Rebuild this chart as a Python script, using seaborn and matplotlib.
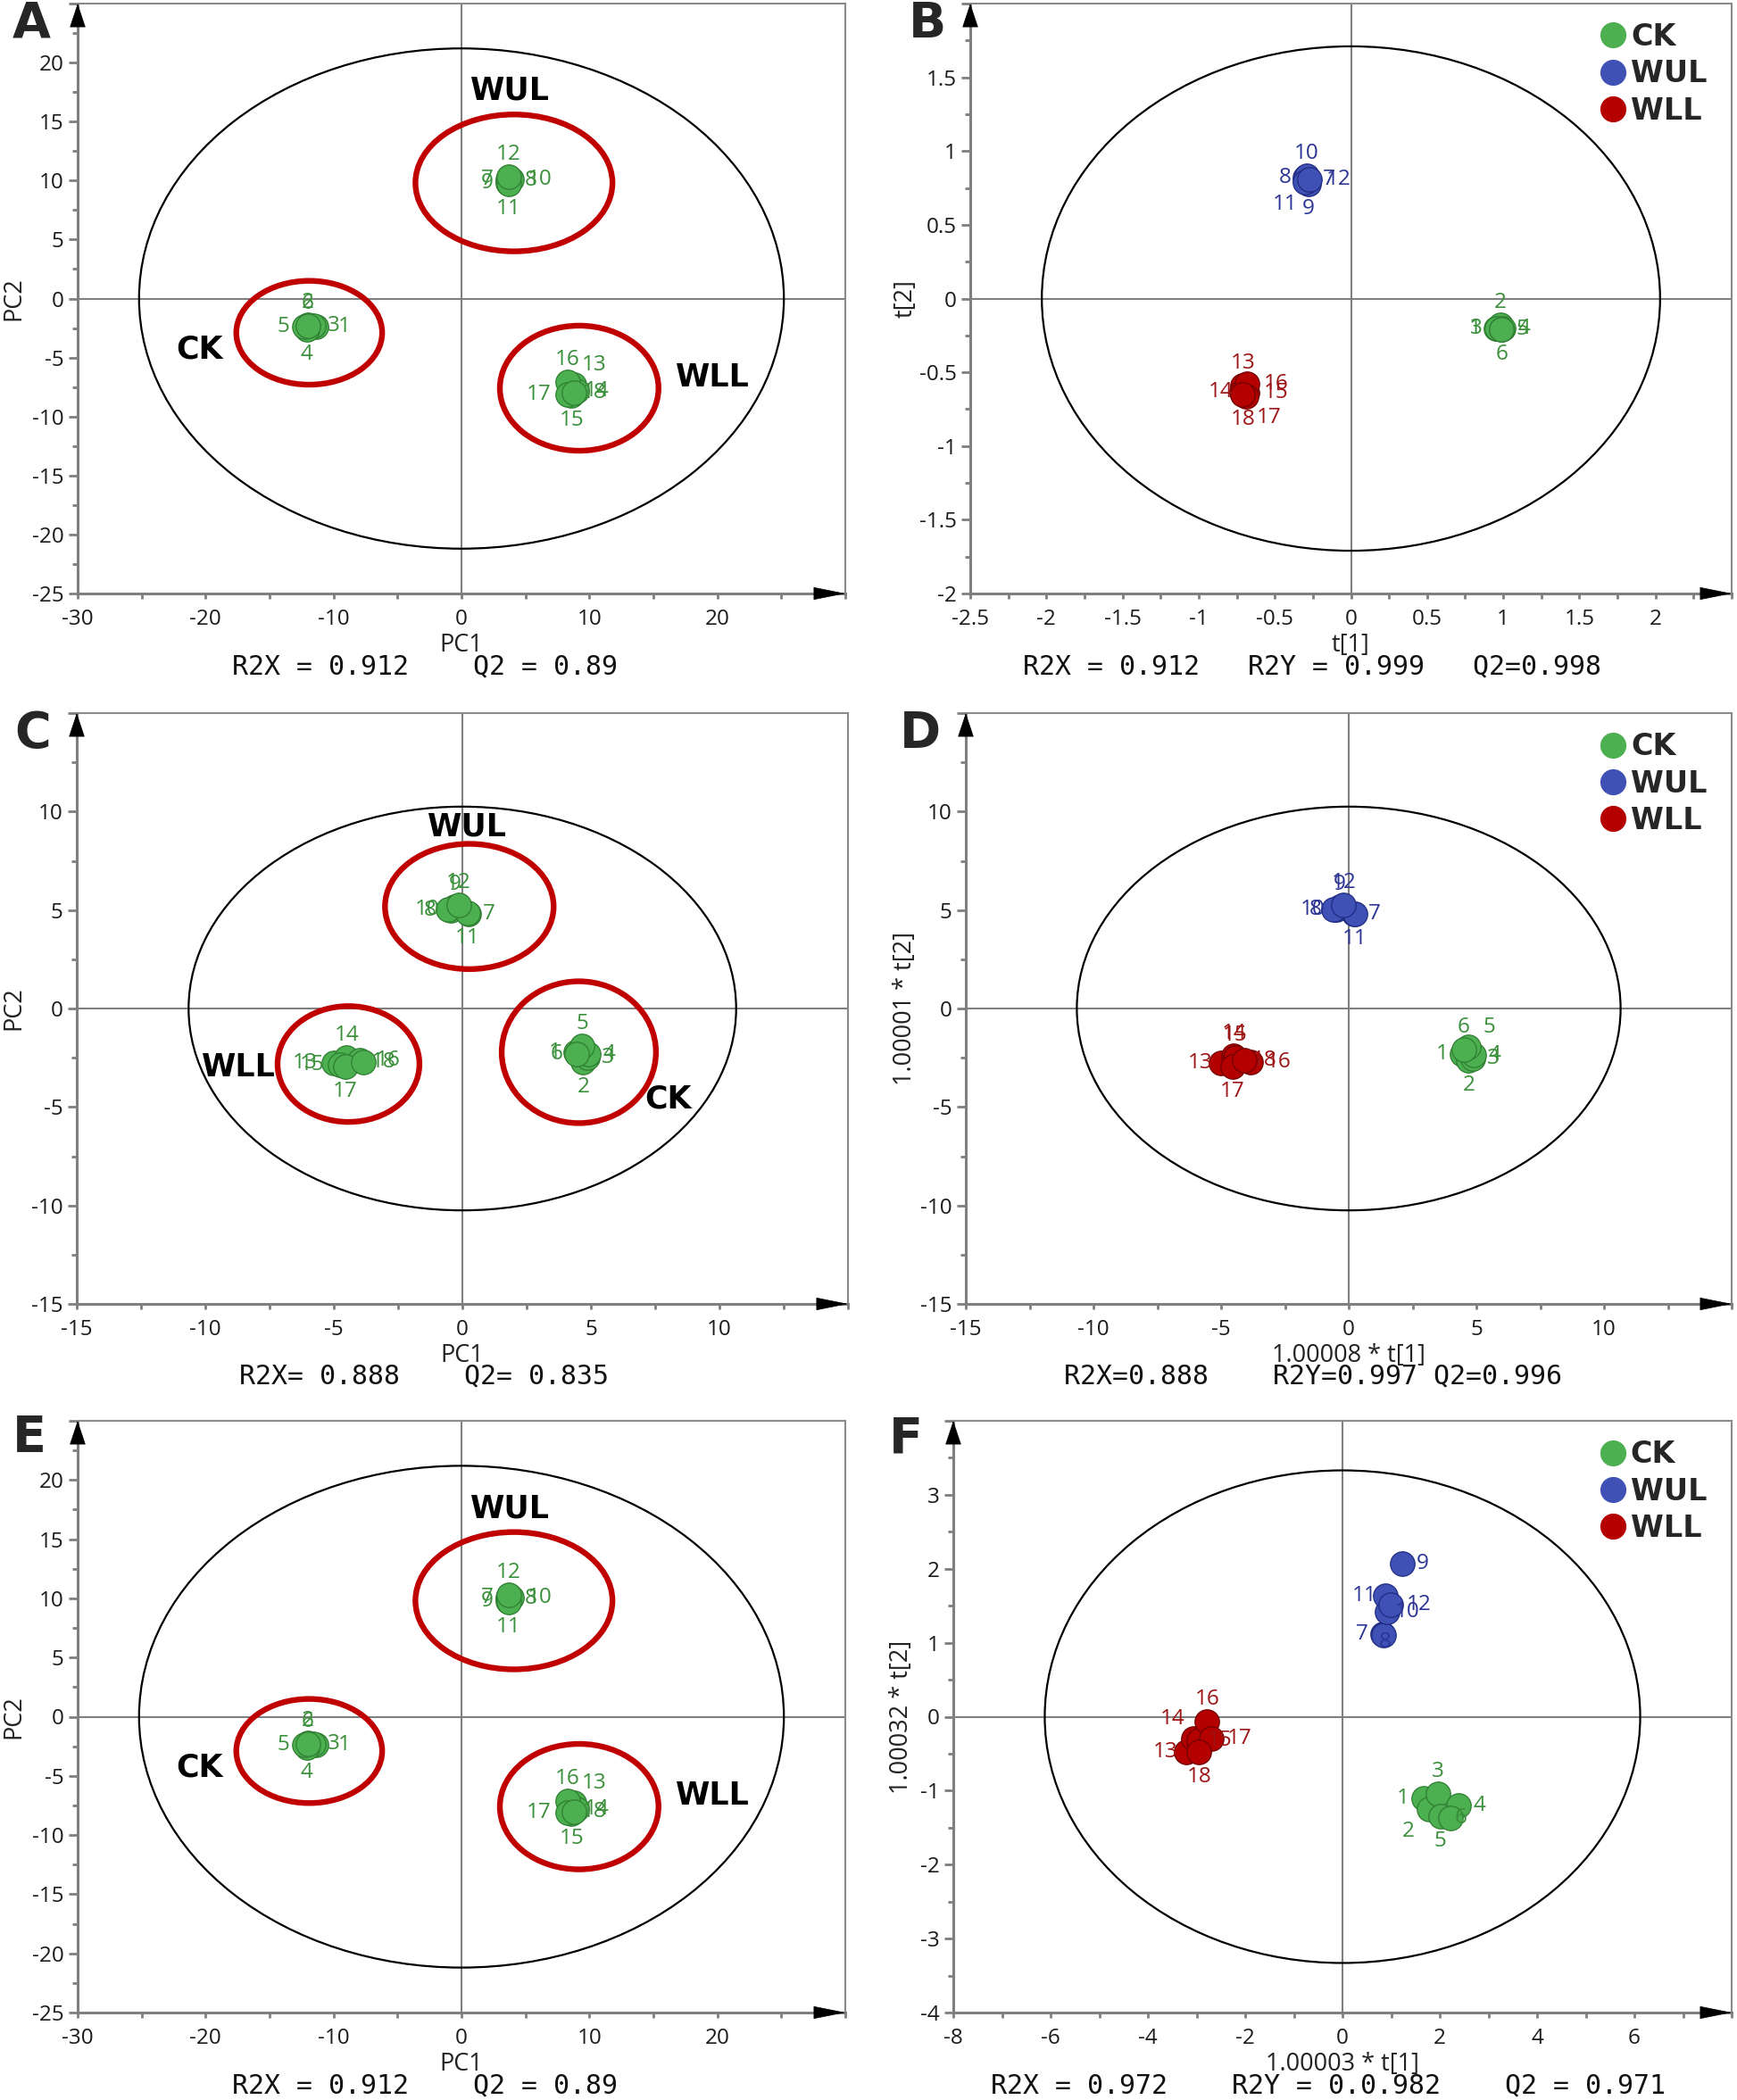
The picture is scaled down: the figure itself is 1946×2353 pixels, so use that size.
import matplotlib
matplotlib.use("Agg")
import matplotlib.pyplot as plt
from matplotlib.patches import Ellipse
from matplotlib.lines import Line2D
from matplotlib.ticker import MultipleLocator
import pandas as pd
import seaborn as sns

# --- datos ---
muestras = list(range(1, 19))
grupos = ["CK"] * 6 + ["WUL"] * 6 + ["WLL"] * 6

# A y E: PCA (PC1, PC2)
pca_ae_x = [-11.4, -12.0, -11.6, -12.1, -12.3, -12.0,
            3.6, 3.8, 3.6, 3.9, 3.7, 3.7,
            8.8, 9.0, 8.6, 8.3, 8.3, 8.8]
pca_ae_y = [-2.4, -2.2, -2.3, -2.6, -2.4, -2.3,
            10.1, 10.0, 9.8, 10.1, 9.7, 10.3,
            -7.3, -7.8, -8.2, -7.1, -8.1, -8.0]
pos_ae = ["E2", "N", "E", "S", "W", "N", "W", "E", "W", "E2", "S", "N",
          "NE", "E", "S", "N", "W2", "E"]

# B: PLS-DA t[1], t[2]
pls_b_x = [0.95, 0.98, 0.96, 1.00, 0.99, 0.99,
           -0.28, -0.30, -0.28, -0.29, -0.30, -0.27,
           -0.71, -0.72, -0.68, -0.68, -0.69, -0.71]
pls_b_y = [-0.20, -0.18, -0.20, -0.20, -0.21, -0.21,
           0.81, 0.82, 0.78, 0.83, 0.79, 0.81,
           -0.59, -0.63, -0.64, -0.58, -0.66, -0.65]
pos_b = ["W", "N", "W", "E", "E", "S", "E", "W", "S", "N", "SW", "E2",
         "N", "W", "E2", "E2", "SE", "S"]

# C: PCA
pca_c_x = [4.40, 4.70, 4.85, 4.90, 4.65, 4.45,
           0.25, -0.45, -0.30, -0.55, 0.20, -0.15,
           -5.00, -4.50, -4.75, -4.00, -4.55, -3.85]
pca_c_y = [-2.20, -2.70, -2.50, -2.30, -1.90, -2.30,
           4.80, 5.00, 5.15, 5.05, 4.85, 5.25,
           -2.75, -2.50, -2.85, -2.65, -2.95, -2.70]
pos_c = ["W", "S", "E", "E", "N", "W", "E", "W", "N", "W", "S", "N",
         "W2", "N", "W2", "E2", "S", "E"]

# D: PLS-DA
pls_d_x = [4.45, 4.70, 4.85, 4.90, 4.70, 4.50,
           0.20, -0.50, -0.35, -0.60, 0.25, -0.20,
           -5.00, -4.50, -4.45, -3.85, -4.55, -4.10]
pls_d_y = [-2.30, -2.65, -2.55, -2.35, -1.95, -2.10,
           4.80, 5.05, 5.15, 5.05, 4.80, 5.25,
           -2.75, -2.40, -2.50, -2.70, -2.95, -2.65]
pos_d = ["W", "S", "E", "E", "NE", "N", "E", "W", "N", "W", "S", "N",
         "W", "N", "N", "E2", "S", "E"]

# F: PLS-DA
pls_f_x = [1.67, 1.78, 1.97, 2.39, 2.01, 2.22,
           0.82, 0.84, 1.23, 0.92, 0.88, 0.99,
           -3.22, -3.07, -2.95, -2.78, -2.70, -2.95]
pls_f_y = [-1.10, -1.25, -1.04, -1.20, -1.34, -1.37,
           1.12, 1.11, 2.07, 1.42, 1.63, 1.52,
           -0.48, -0.29, -0.32, -0.07, -0.29, -0.48]
pos_f = ["W", "SW", "N", "E", "S", "E1", "W", "C", "E", "E", "W", "E2",
         "W", "NW", "E", "N", "E2", "S"]

# elipses rojas (centro x, centro y, ancho, alto) y etiquetas de grupo
elipses_ae = {"CK": (-11.9, -2.9, 11.4, 8.8), "WUL": (4.1, 9.8, 15.4, 11.6),
              "WLL": (9.2, -7.6, 12.4, 10.6)}
rotulos_ae = {"WUL": (3.8, 17.6), "CK": (-20.5, -4.3), "WLL": (19.6, -6.7)}
elipses_c = {"WUL": (0.27, 5.18, 6.56, 6.36), "CK": (4.53, -2.22, 6.0, 7.2),
             "WLL": (-4.43, -2.82, 5.52, 5.88)}
rotulos_c = {"WUL": (0.2, 9.2), "WLL": (-8.7, -3.0), "CK": (8.0, -4.6)}

# elipse T2 de Hotelling (ancho, alto)
t2_ae = (50.4, 42.4)
t2_b = (4.06, 3.42)
t2_cd = (21.3, 20.5)
t2_f = (12.24, 6.66)

# --- estilo ---
sns.set_theme(style="white")
plt.rcParams["font.family"] = ["Open Sans", "DejaVu Sans"]

GRIS = "#7f7f7f"
colores = {"CK": "#4caf50", "WUL": "#3f51b5", "WLL": "#b50000"}
bordes = {"CK": "#2f7d32", "WUL": "#1f2a80", "WLL": "#6e0000"}
textos = {"CK": "#3a8f3a", "WUL": "#2c3593", "WLL": "#9c1414"}

# desplazamientos de las etiquetas (px)
desp = {"N": (0, 25), "S": (0, -28), "E": (23, 0), "W": (-23, 0),
        "E2": (32, 0), "W2": (-32, 0), "NE": (23, 22), "NW": (-23, 22),
        "SE": (26, -24), "SW": (-23, -25), "E1": (12, 0), "C": (2, -8)}

W, H = 1946, 2353
fig = plt.figure(figsize=(W / 100, H / 100), dpi=100)


def crear_ejes(izq, der, arriba, abajo):
    return fig.add_axes([izq / W, 1 - abajo / H, (der - izq) / W, (abajo - arriba) / H])


def formato(maximo):
    # el valor del extremo (donde esta la flecha) queda sin etiqueta
    return plt.FuncFormatter(lambda v, p: "" if v >= maximo - 1e-9 else f"{v:g}")


def panel(ax, x, y, pos, pca, xlim, ylim, xmaj, ymaj, xlab, ylab, ylab_off, t2,
          elipses=None, rotulos=None):
    df = pd.DataFrame({"x": x, "y": y, "muestra": muestras, "grupo": grupos})
    ax.set_xlim(*xlim)
    ax.set_ylim(*ylim)
    ax.axhline(0, color=GRIS, lw=1.5, zorder=1)
    ax.axvline(0, color=GRIS, lw=1.5, zorder=1)
    ax.add_patch(Ellipse((0, 0), t2[0], t2[1], fill=False, ec="black", lw=1.6, zorder=2))
    if elipses:
        for g, (cx, cy, w, h) in elipses.items():
            ax.add_patch(Ellipse((cx, cy), w, h, fill=False, ec="#c00000", lw=4.6, zorder=2))
    for g in ["CK", "WUL", "WLL"]:
        sub = df[df.grupo == g]
        clave = "CK" if pca else g
        sns.scatterplot(data=sub, x="x", y="y", color=colores[clave], edgecolor=bordes[clave],
                        linewidth=0.9, s=390, ax=ax, legend=False, zorder=3)
    for i, fila in df.iterrows():
        clave = "CK" if pca else fila.grupo
        dx, dy = desp[pos[i]]
        ax.annotate(str(fila.muestra), (fila.x, fila.y), xytext=(dx * 0.72, dy * 0.72),
                    textcoords="offset points", ha="center", va="center",
                    fontsize=17.5, color=textos[clave], zorder=4)
    if rotulos:
        for g, (tx, ty) in rotulos.items():
            ax.text(tx, ty, g, ha="center", va="center", fontsize=25, fontweight="bold",
                    family="DejaVu Sans", color="black", zorder=4)
    if not pca:
        manejadores = [Line2D([], [], marker="o", ls="", markersize=20,
                              markerfacecolor=colores[g], markeredgecolor=colores[g], label=g)
                       for g in ["CK", "WUL", "WLL"]]
        ax.legend(handles=manejadores, loc="upper right", bbox_to_anchor=(0.968, 0.968),
                  frameon=False, borderpad=0, borderaxespad=0, handletextpad=0.1,
                  labelspacing=0.25, handlelength=1.0,
                  prop={"family": "DejaVu Sans", "weight": "bold", "size": 24})

    ax.set_xlabel(xlab, fontsize=19.5, color="#222222")
    ax.set_ylabel(ylab, fontsize=19.5, color="#222222")
    ax.xaxis.set_label_coords(0.5, -0.087)
    ax.xaxis.label.set_va("center")
    ax.yaxis.set_label_coords(ylab_off, 0.5)
    ax.yaxis.label.set_va("center")

    ax.xaxis.set_major_locator(MultipleLocator(xmaj))
    ax.xaxis.set_minor_locator(MultipleLocator(xmaj / 2))
    ax.yaxis.set_major_locator(MultipleLocator(ymaj))
    ax.yaxis.set_minor_locator(MultipleLocator(ymaj / 2))
    ax.tick_params(axis="both", which="both", direction="out", color=GRIS, width=2,
                   labelsize=17.5, labelcolor="#1a1a1a")
    ax.tick_params(axis="y", which="major", length=7, pad=4, left=True)
    ax.tick_params(axis="y", which="minor", length=4.5, left=True)
    ax.tick_params(axis="x", which="both", length=4.5, pad=8, bottom=True)
    ax.xaxis.set_major_formatter(formato(xlim[1]))
    ax.yaxis.set_major_formatter(formato(ylim[1]))
    for lado in ["left", "bottom"]:
        ax.spines[lado].set_color(GRIS)
        ax.spines[lado].set_linewidth(2.2)
    for lado in ["top", "right"]:
        ax.spines[lado].set_color("#8a8a8a")
        ax.spines[lado].set_linewidth(1.5)
    ax.grid(False)

    # flechas de los ejes
    alto = ax.get_position().height * H
    ancho = ax.get_position().width * W
    ax.annotate("", xy=(0, 1), xytext=(0, 1 - 24 / alto), xycoords="axes fraction",
                arrowprops=dict(arrowstyle="-|>,head_length=0.9,head_width=0.3",
                                mutation_scale=20, color="black", lw=0.5,
                                shrinkA=0, shrinkB=0), annotation_clip=False)
    ax.annotate("", xy=(1, 0), xytext=(1 - 34 / ancho, 0), xycoords="axes fraction",
                arrowprops=dict(arrowstyle="-|>,head_length=1.2,head_width=0.24",
                                mutation_scale=20, color="black", lw=0.5,
                                shrinkA=0, shrinkB=0), annotation_clip=False)


axA = crear_ejes(87, 947, 4, 665)
panel(axA, pca_ae_x, pca_ae_y, pos_ae, True, (-30, 30), (-25, 25), 10, 5,
      "PC1", "PC2", -72 / 860, t2_ae, elipses_ae, rotulos_ae)
axB = crear_ejes(1087, 1940, 4, 665)
panel(axB, pls_b_x, pls_b_y, pos_b, False, (-2.5, 2.5), (-2, 2), 0.5, 0.5,
      "t[1]", "t[2]", -72 / 853, t2_b)
axC = crear_ejes(86, 950, 799, 1461)
panel(axC, pca_c_x, pca_c_y, pos_c, True, (-15, 15), (-15, 15), 5, 5,
      "PC1", "PC2", -71 / 864, t2_cd, elipses_c, rotulos_c)
axD = crear_ejes(1082, 1940, 799, 1461)
panel(axD, pls_d_x, pls_d_y, pos_d, False, (-15, 15), (-15, 15), 5, 5,
      "1.00008 * t[1]", "1.00001 * t[2]", -68 / 858, t2_cd)
axE = crear_ejes(87, 947, 1592, 2255)
panel(axE, pca_ae_x, pca_ae_y, pos_ae, True, (-30, 30), (-25, 25), 10, 5,
      "PC1", "PC2", -72 / 860, t2_ae, elipses_ae, rotulos_ae)
axF = crear_ejes(1068, 1940, 1592, 2255)
panel(axF, pls_f_x, pls_f_y, pos_f, False, (-8, 8), (-4, 4), 2, 1,
      "1.00003 * t[1]", "1.00032 * t[2]", -58 / 872, t2_f)

# letras de panel
for letra, (px, py) in {"A": (14, 0), "B": (1018, 0), "C": (16, 795),
                        "D": (1008, 795), "E": (14, 1584), "F": (996, 1586)}.items():
    fig.text(px / W, 1 - py / H, letra, ha="left", va="top", fontsize=40,
             fontweight="bold", family="DejaVu Sans")

# estadisticos de los modelos
stats = [("R2X = 0.912    Q2 = 0.89", 476, 747),
         ("R2X = 0.912   R2Y = 0.999   Q2=0.998", 1470, 747),
         ("R2X= 0.888    Q2= 0.835", 475, 1542),
         ("R2X=0.888    R2Y=0.997 Q2=0.996", 1471, 1542),
         ("R2X = 0.912    Q2 = 0.89", 476, 2337),
         ("R2X = 0.972    R2Y = 0.0.982    Q2 = 0.971", 1488, 2337)]
for txt, px, py in stats:
    fig.text(px / W, 1 - py / H, txt, ha="center", va="center", fontsize=21.5,
             family="DejaVu Sans Mono", color="#111111")

fig.savefig("out.png", dpi=100, facecolor="white")
